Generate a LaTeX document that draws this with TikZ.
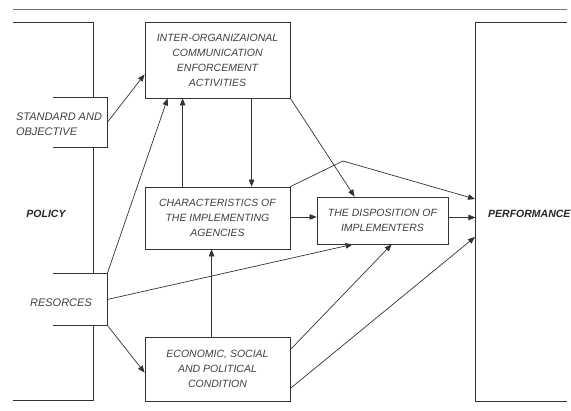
\documentclass[tikz,border=0pt]{standalone}
\usepackage{fontspec}
\setmainfont{Liberation Sans}
\usetikzlibrary{arrows.meta,calc}
\begin{document}
\begin{tikzpicture}[x=1pt,y=-1pt,
    box/.style={draw=black!80,line width=0.8pt,minimum width=145pt,
      align=center,inner sep=0pt,text=black!75,
      font=\fontsize{10.5}{15}\selectfont\itshape},
    frame/.style={minimum width=54pt,inner sep=0pt},
    label/.style={align=center,inner sep=0pt,text=black!75,
      font=\fontsize{11}{15}\selectfont\itshape},
    side/.style={inner sep=0pt,text=black!85,
      font=\fontsize{10.5}{13}\selectfont\bfseries\itshape},
    edge/.style={draw=black!80,line width=0.7pt},
    arr/.style={edge,-{Triangle[length=7pt,width=5.5pt]}}]
  \useasboundingbox (0,0) rectangle (571,411);
  \draw[black!55,line width=0.7pt] (13,9) -- (567,9);
  % policy and performance
  \draw[edge,line width=0.8pt] (13,22) -- (93,22) -- (93,400) -- (13,400);
  \draw[edge,line width=0.8pt] (567,22) -- (475,22) -- (475,401) -- (567,401);
  \node[side] (policy) at (46,214) {POLICY};
  \coordinate (perf) at (475,22);
  \node[side,anchor=west] (perftext) at (488,214) {PERFORMANCE};
  % standard and resources
  \node[frame,minimum height=49pt,fill=white] (stdbox) at (80,122.5) {};
  \node[frame,minimum height=51pt,fill=white] (resbox) at (80,299.5) {};
  \draw[edge,line width=0.8pt] (stdbox.north west) -- (stdbox.north east)
    -- (stdbox.south east) -- (stdbox.south west);
  \draw[edge,line width=0.8pt] (resbox.north west) -- (resbox.north east)
    -- (resbox.south east) -- (resbox.south west);
  \node[label,align=left] (std) at (59,124) {STANDARD AND\\OBJECTIVE};
  \node[label] (res) at (61,303) {RESORCES};
  % middle boxes
  \node[box,minimum height=76pt] (inter) at (217.5,60)
    {INTER-ORGANIZAIONAL\\COMMUNICATION\\ENFORCEMENT\\ACTIVITIES};
  \node[box,minimum height=62pt] (charac) at (217.5,218)
    {CHARACTERISTICS OF\\THE IMPLEMENTING\\AGENCIES};
  \node[box,minimum height=64pt] (econ) at (217.5,369)
    {ECONOMIC, SOCIAL\\AND POLITICAL\\CONDITION};
  \node[box,minimum width=131pt,minimum height=47pt] (dispo) at (382.5,220.5)
    {THE DISPOSITION OF\\IMPLEMENTERS};
  \coordinate (bend) at (343,161);
  % connectors
  \draw[arr] (stdbox.east) -- ($(inter.south west)+(0,-24)$);
  \draw[arr] (resbox.north east) -- ($(inter.south west)+(23,0)$);
  \draw[arr] ($(charac.north west)+(38,0)$) -- ($(inter.south west)+(38,0)$);
  \draw[arr] ($(inter.south west)+(107,0)$) -- ($(charac.north west)+(107,0)$);
  \draw[arr] (inter.south east) -- ($(dispo.north west)+(38,0)$);
  \draw[arr] (charac.north east) -- (bend) -- ($(perf)+(0,177)$);
  \draw[arr] ($(charac.east)+(0,-1)$) -- ($(charac.east -| dispo.west)+(0,-1)$);
  \draw[arr] ($(dispo.east)+(0,-3)$) -- ($(dispo.east |- perf)+(27,195.5)$);
  \draw[arr] (resbox.east) -- ($(dispo.south west)+(36,0)$);
  \draw[arr] (resbox.south east) -- ($(econ.north west)+(0,36)$);
  \draw[arr] ($(econ.north west)+(67,0)$) -- ($(charac.south west)+(67,0)$);
  \draw[arr] ($(econ.north east)+(0,13)$) -- ($(dispo.south west)+(75,0)$);
  \draw[arr] ($(econ.south east)+(0,-13)$) -- ($(perf)+(0,215)$);
\end{tikzpicture}
\end{document}
